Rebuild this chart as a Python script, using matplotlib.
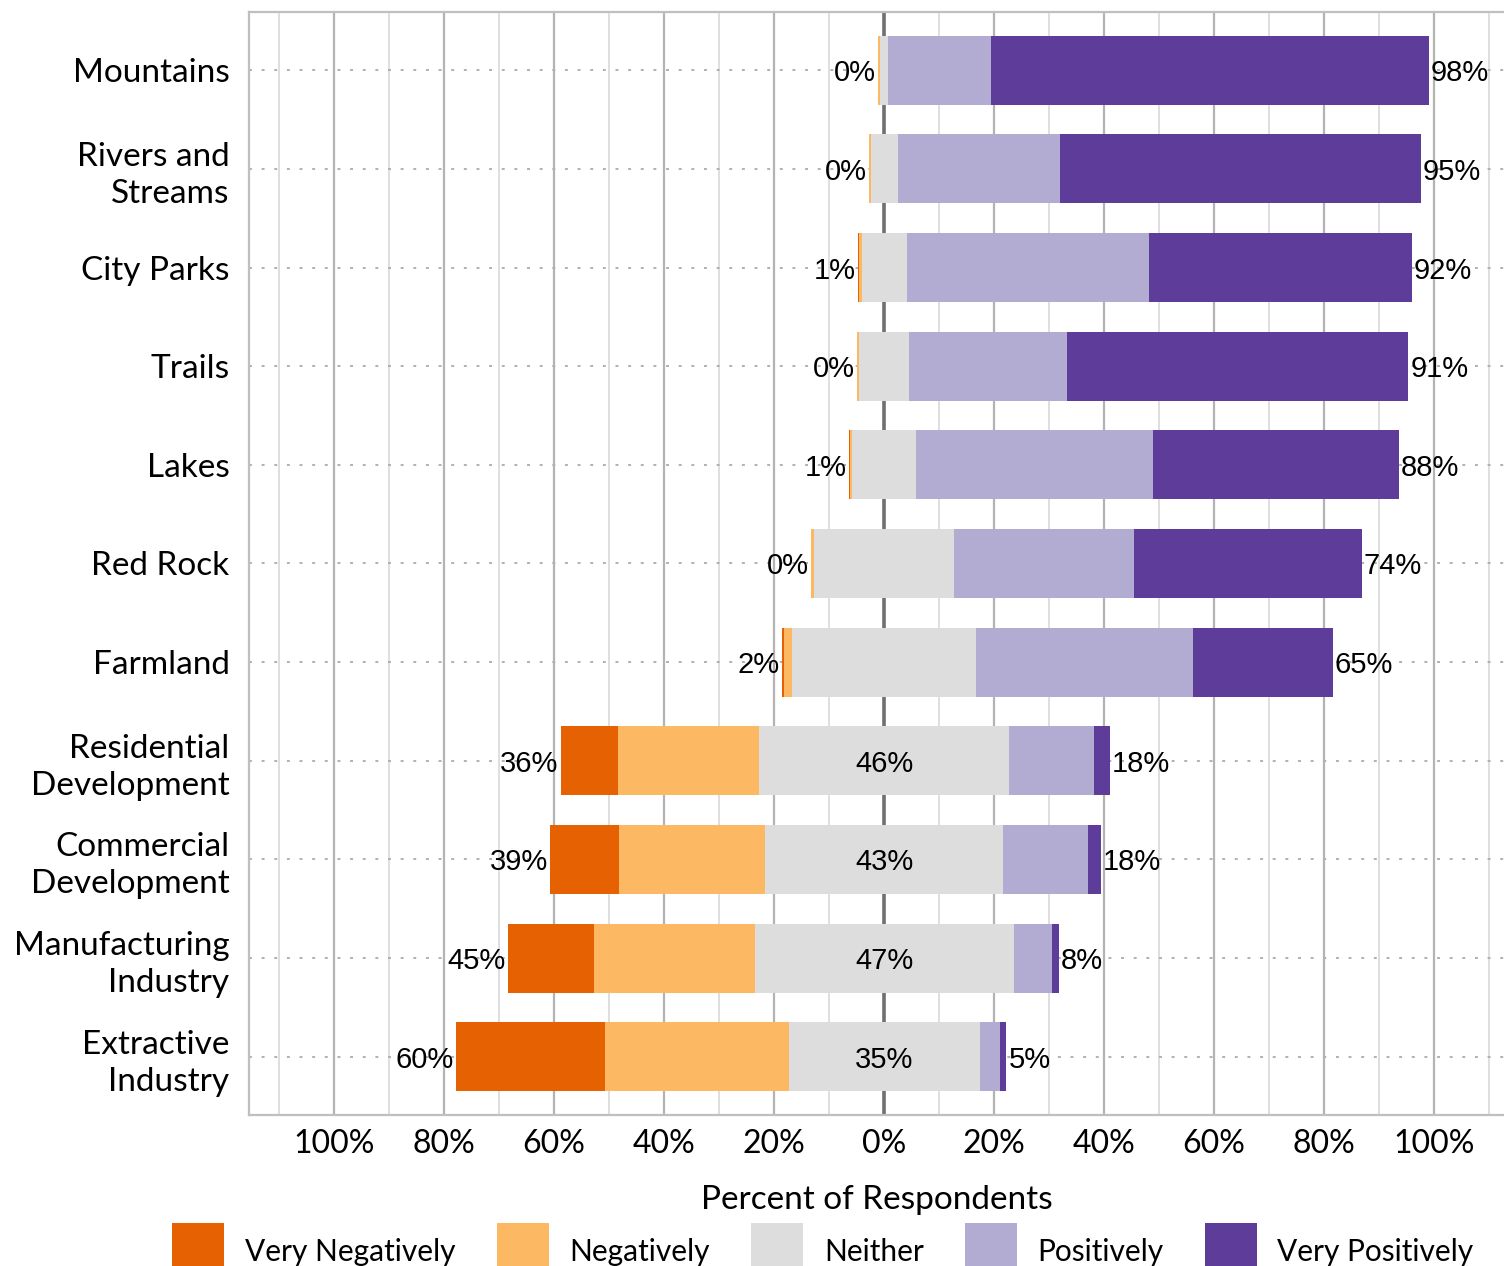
import matplotlib
matplotlib.use("Agg")
import matplotlib.pyplot as plt
from matplotlib.patches import Patch, Rectangle
from matplotlib.legend_handler import HandlerPatch
import numpy as np

categories = ["Mountains", "Rivers and\nStreams", "City Parks", "Trails", "Lakes",
              "Red Rock", "Farmland", "Residential\nDevelopment",
              "Commercial\nDevelopment", "Manufacturing\nIndustry", "Extractive\nIndustry"]
very_negatively = [0.0, 0.0, 0.1, 0.0, 0.2, 0.0, 0.4, 10.5, 12.5, 15.8, 27.1]
negatively      = [0.3, 0.3, 0.5, 0.4, 0.4, 0.4, 1.5, 25.5, 26.5, 29.1, 33.3]
neither         = [1.5, 4.9, 8.2, 9.1, 11.6, 25.6, 33.3, 45.6, 43.4, 47.1, 34.7]
positively      = [18.7, 29.6, 44.0, 28.7, 43.1, 32.7, 39.6, 15.3, 15.3, 6.9, 3.8]
very_positively = [79.6, 65.5, 47.8, 62.0, 44.7, 41.3, 25.3, 2.9, 2.4, 1.3, 1.1]
series_names = ["Very Negatively", "Negatively", "Neither", "Positively", "Very Positively"]
tick_values = [-100, -80, -60, -40, -20, 0, 20, 40, 60, 80, 100]
tick_labels = ["100%", "80%", "60%", "40%", "20%", "0%", "20%", "40%", "60%", "80%", "100%"]
x_title = "Percent of Respondents"

colors = ["#E66101", "#FDB863", "#DDDDDD", "#B2ABD2", "#5E3C99"]
cat_font = "Lato"
val_font = "Liberation Sans"

W, H = 1504, 1266
fig = plt.figure(figsize=(W / 100, H / 100), dpi=100)
ax = fig.add_axes([249 / W, 1 - 1115 / H, (1504 - 249) / W, (1115 - 12) / H])

vn = np.array(very_negatively)
ng = np.array(negatively)
ne = np.array(neither)
po = np.array(positively)
vp = np.array(very_positively)
y = np.arange(len(categories))

start = -(ne / 2 + ng + vn)
segs = [vn, ng, ne, po, vp]
left = start.copy()
bh = 0.7
for seg, col in zip(segs, colors):
    ax.barh(y, seg, left=left, height=bh, color=col, edgecolor="none", zorder=3)
    left = left + seg

# grid
for v in np.arange(-110, 111, 10):
    if v == 0:
        ax.axvline(0, color="#707070", lw=2.6, zorder=1)
    elif v % 20 == 0:
        ax.axvline(v, color="#b3b3b3", lw=1.6, zorder=1)
    else:
        ax.axvline(v, color="#d9d9d9", lw=1.2, zorder=1)
for yy in y:
    ax.axhline(yy, color="#b0b0b0", lw=1.4, ls=(0, (1.5, 5)), zorder=2)

# value labels
neg_tot = vn + ng
pos_tot = po + vp
vfs = 21
for i in range(len(categories)):
    ax.text(start[i] - 0.4, y[i], f"{round(neg_tot[i])}%", ha="right", va="center_baseline",
            fontsize=vfs, family=val_font, zorder=4)
    ax.text(start[i] + neg_tot[i] + ne[i] + pos_tot[i] + 0.4, y[i], f"{round(pos_tot[i])}%",
            ha="left", va="center_baseline", fontsize=vfs, family=val_font, zorder=4)
    if neg_tot[i] > 5:
        ax.text(0, y[i], f"{round(ne[i])}%", ha="center", va="center_baseline",
                fontsize=vfs, family=val_font, zorder=4)

ax.set_xlim(-115.45, 112.7)
ax.set_ylim(len(categories) - 0.41, -0.59)
ax.set_xticks(tick_values)
ax.set_xticklabels(tick_labels, fontsize=23, family=cat_font)
ax.set_yticks(y)
ax.set_yticklabels(categories, fontsize=24, family=cat_font, linespacing=1.28)
ax.tick_params(axis="both", length=0)
ax.tick_params(axis="x", pad=10)
ax.tick_params(axis="y", pad=14)
ax.set_xlabel(x_title, fontsize=24, family=cat_font, labelpad=19)

for side in ["top", "left", "bottom"]:
    ax.spines[side].set_color("#bfbfbf")
    ax.spines[side].set_linewidth(1.6)
ax.spines["right"].set_visible(False)


def square_patch(legend, orig_handle, xdescent, ydescent, width, height, fontsize):
    return Rectangle((-xdescent, -0.167 * fontsize), width, 1.44 * fontsize)


handles = [Patch(facecolor=c, edgecolor="none", label=n) for c, n in zip(colors, series_names)]
fig.legend(handles=handles, loc="center", bbox_to_anchor=(823 / W, 1 - 1251 / H),
           ncol=5, frameon=False, prop={"family": cat_font, "size": 21.5},
           handlelength=1.74, handleheight=1.44, handletextpad=0.7, columnspacing=1.37,
           borderaxespad=0, borderpad=0,
           handler_map={Patch: HandlerPatch(patch_func=square_patch)})

fig.savefig("out.png", dpi=100)
